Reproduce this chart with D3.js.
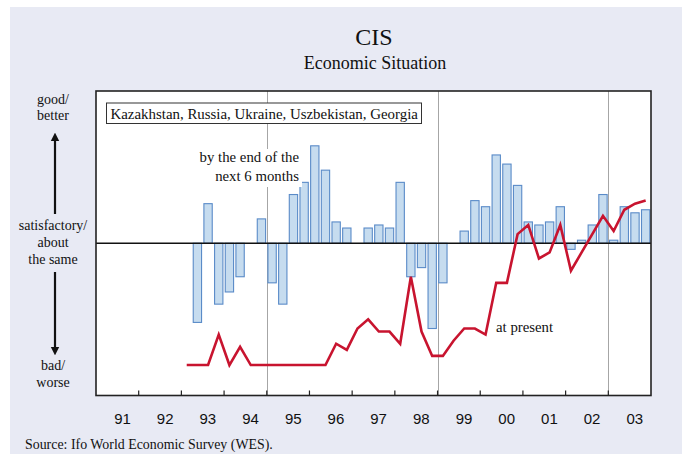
<!DOCTYPE html>
<html>
<head>
<meta charset="utf-8">
<script src="https://cdn.jsdelivr.net/npm/d3@7/dist/d3.min.js"></script>
<style>
  body { margin: 0; background: #fff; }
  text { font-family: "Liberation Serif", "Times New Roman", serif; fill: #111; }
  .yr { font-family: "Liberation Sans", Arial, sans-serif; }
</style>
</head>
<body>
<script>
var width = 688,
    height = 454;

// years on the axis, one band per year, quarterly values
var years = ["91", "92", "93", "94", "95", "96", "97", "98", "99", "00", "01", "02", "03"];
var quarters = [];
years.forEach(function(y){
    for (let q = 1; q <= 4; q++) quarters.push(y + "Q" + q);
});

// expectations by the end of the next 6 months (bars), balance
var expected = [
    null, null, null, null,
    null, null, null, null,
    null, -26, 13, -20,
    -16, -11, null, 8,
    -13, -20, 16, 20,
    32, 24, 7, 5,
    null, 5, 6, 5,
    20, -11, -8, -28,
    -13, null, 4, 14,
    12, 29, 26, 19,
    7, 6, 7, 12,
    -2, 1, 6, 16,
    1, 12, 10, 11
];

// present situation (line), balance
var present = [
    null, null, null, null,
    null, null, null, null,
    -40, -40, -40, -30,
    -40, -34, -40, -40,
    -40, -40, -40, -40,
    -40, -40, -33, -35,
    -28, -25, -29, -29,
    -33, -11, -29, -37,
    -37, -32, -28, -28,
    -30, -13, -13, 3,
    6, -5, -3, 6,
    -9, -3, 3, 9,
    4, 11, 13, 14
];

// years where a grey marker line is drawn
var markers = ["95", "99", "03"];

var plot = {left: 96, right: 651, top: 91, bottom: 395.5};

var svg = d3.select("body").append("svg")
    .attr("width", width)
    .attr("height", height);

svg.append("rect")
    .attr("x", 10).attr("y", 7)
    .attr("width", 672).attr("height", 447)
    .attr("fill", "#e8eaf4");

var xYear = d3.scaleBand()
    .domain(years)
    .range([plot.left, plot.right]);

var xq = d3.scaleBand()
    .domain(quarters)
    .range([plot.left, plot.right])
    .paddingInner(0.22)
    .paddingOuter(0.11);

var y = d3.scaleLinear()
    .domain([-50, 50])
    .range([plot.bottom, plot.top]);

svg.append("rect")
    .attr("x", plot.left).attr("y", plot.top)
    .attr("width", plot.right - plot.left).attr("height", plot.bottom - plot.top)
    .attr("fill", "#fff");

// grey marker lines
svg.selectAll("line.marker")
    .data(markers)
    .enter().append("line")
    .attr("class", "marker")
    .attr("x1", function(d){ return Math.round(xYear(d)) + 0.5; })
    .attr("x2", function(d){ return Math.round(xYear(d)) + 0.5; })
    .attr("y1", plot.top)
    .attr("y2", plot.bottom)
    .attr("stroke", "#a6a6a6")
    .attr("stroke-width", 1);

// bars
var barData = quarters.map(function(q, i){ return {q: q, v: expected[i]}; })
    .filter(function(d){ return d.v !== null; });

svg.selectAll("rect.bar")
    .data(barData)
    .enter().append("rect")
    .attr("class", "bar")
    .attr("x", function(d){ return xq(d.q); })
    .attr("width", xq.bandwidth())
    .attr("y", function(d){ return Math.min(y(d.v), y(0)); })
    .attr("height", function(d){ return Math.abs(y(d.v) - y(0)); })
    .attr("fill", "#c6dcef")
    .attr("stroke", "#5a8bc8")
    .attr("stroke-width", 1.1);

// zero line
svg.append("line")
    .attr("x1", plot.left).attr("x2", plot.right)
    .attr("y1", y(0)).attr("y2", y(0))
    .attr("stroke", "#111")
    .attr("stroke-width", 1.3);

// present line
var line = d3.line()
    .defined(function(d){ return d.v !== null; })
    .x(function(d){ return xq(d.q) + xq.bandwidth() / 2; })
    .y(function(d){ return y(d.v); });

svg.append("path")
    .attr("d", line(quarters.map(function(q, i){ return {q: q, v: present[i]}; })))
    .attr("fill", "none")
    .attr("stroke", "#c8142f")
    .attr("stroke-width", 2.6)
    .attr("stroke-linejoin", "miter");

// legend box
svg.append("rect")
    .attr("x", 106.5).attr("y", 103)
    .attr("width", 315).attr("height", 20.5)
    .attr("fill", "#fff")
    .attr("stroke", "#333")
    .attr("stroke-width", 1);
svg.append("text")
    .attr("x", 110.5).attr("y", 118.5)
    .style("font-size", "14.9px")
    .text("Kazakhstan, Russia, Ukraine, Uszbekistan, Georgia");

// series labels
svg.append("rect")
    .attr("x", 194).attr("y", 149)
    .attr("width", 108).attr("height", 38)
    .attr("fill", "#fff");
svg.append("text")
    .attr("x", 299).attr("y", 162)
    .attr("text-anchor", "end")
    .style("font-size", "14.8px")
    .text("by the end of the");
svg.append("text")
    .attr("x", 299).attr("y", 180.5)
    .attr("text-anchor", "end")
    .style("font-size", "14.8px")
    .text("next 6 months");
svg.append("text")
    .attr("x", 496).attr("y", 332)
    .style("font-size", "14.8px")
    .text("at present");

// frame
svg.append("rect")
    .attr("x", plot.left).attr("y", plot.top)
    .attr("width", plot.right - plot.left).attr("height", plot.bottom - plot.top)
    .attr("fill", "none")
    .attr("stroke", "#222")
    .attr("stroke-width", 1.6);

// year ticks and labels
svg.selectAll("line.tick")
    .data(years.slice(1))
    .enter().append("line")
    .attr("class", "tick")
    .attr("x1", function(d){ return xYear(d); })
    .attr("x2", function(d){ return xYear(d); })
    .attr("y1", plot.bottom - 5)
    .attr("y2", plot.bottom)
    .attr("stroke", "#222")
    .attr("stroke-width", 1.2);

svg.selectAll("text.yr")
    .data(years)
    .enter().append("text")
    .attr("class", "yr")
    .attr("x", function(d){ return xYear(d) + xYear.bandwidth() * 0.62; })
    .attr("y", 424)
    .attr("text-anchor", "middle")
    .style("font-size", "15px")
    .text(function(d){ return d; });

// titles
svg.append("text")
    .attr("x", 374).attr("y", 45)
    .attr("text-anchor", "middle")
    .style("font-size", "24px")
    .text("CIS");
svg.append("text")
    .attr("x", 375).attr("y", 69)
    .attr("text-anchor", "middle")
    .style("font-size", "18px")
    .text("Economic Situation");

// left scale description
var sideLabels = [
    {t: "good/", y: 104}, {t: "better", y: 120},
    {t: "satisfactory/", y: 230}, {t: "about", y: 247}, {t: "the same", y: 264},
    {t: "bad/", y: 369.5}, {t: "worse", y: 387}
];
svg.selectAll("text.side")
    .data(sideLabels)
    .enter().append("text")
    .attr("class", "side")
    .attr("x", 53)
    .attr("y", function(d){ return d.y; })
    .attr("text-anchor", "middle")
    .style("font-size", "14px")
    .text(function(d){ return d.t; });

svg.append("defs").append("marker")
    .attr("id", "head")
    .attr("viewBox", "0 0 10 10")
    .attr("refX", 5).attr("refY", 5)
    .attr("markerWidth", 4).attr("markerHeight", 5)
    .attr("orient", "auto")
    .append("path")
    .attr("d", "M0,0L10,5L0,10Z")
    .attr("fill", "#111");

svg.append("line")
    .attr("x1", 55).attr("x2", 55)
    .attr("y1", 214).attr("y2", 137)
    .attr("stroke", "#111").attr("stroke-width", 2.2)
    .attr("marker-end", "url(#head)");
svg.append("line")
    .attr("x1", 55).attr("x2", 55)
    .attr("y1", 272).attr("y2", 351)
    .attr("stroke", "#111").attr("stroke-width", 2.2)
    .attr("marker-end", "url(#head)");

// source
svg.append("text")
    .attr("x", 25).attr("y", 449)
    .style("font-size", "13.9px")
    .text("Source: Ifo World Economic Survey (WES).");
</script>
</body>
</html>
